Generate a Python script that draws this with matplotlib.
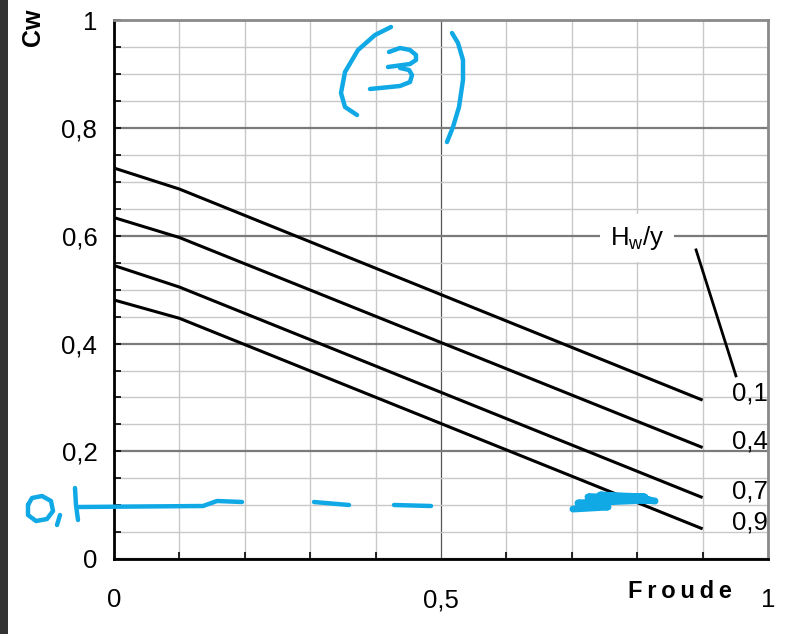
import matplotlib
matplotlib.use("Agg")
import matplotlib.pyplot as plt
from matplotlib.ticker import MultipleLocator, FuncFormatter
from matplotlib.patches import Rectangle

plt.rcParams['font.family'] = ['Liberation Sans', 'DejaVu Sans']

# Cw vs Froude number, one curve per Hw/y ratio
froude = [0.0, 0.1, 0.9]
ratios = ['0,1', '0,4', '0,7', '0,9']
cw_01 = [0.726, 0.687, 0.295]
cw_04 = [0.634, 0.597, 0.207]
cw_07 = [0.545, 0.505, 0.114]
cw_09 = [0.481, 0.447, 0.056]
curves = [cw_01, cw_04, cw_07, cw_09]

W, H = 802, 634
fig = plt.figure(figsize=(W / 100, H / 100), dpi=100)
ax = fig.add_axes([114 / W, (H - 559) / H, 654 / W, 538.5 / H])

ax.set_xlim(0, 1)
ax.set_ylim(0, 1)
ax.xaxis.set_major_locator(MultipleLocator(0.5))
ax.xaxis.set_minor_locator(MultipleLocator(0.1))
ax.yaxis.set_major_locator(MultipleLocator(0.2))
ax.yaxis.set_minor_locator(MultipleLocator(0.05))

fmt = FuncFormatter(lambda v, p: ('%g' % round(v, 2)).replace('.', ','))
ax.xaxis.set_major_formatter(fmt)
ax.yaxis.set_major_formatter(fmt)

ax.grid(which='minor', color='#c8c8c8', lw=1.0)
ax.grid(which='major', axis='y', color='#7a7a7a', lw=1.6)
ax.grid(which='major', axis='x', color='#555555', lw=0.9)
ax.set_axisbelow(True)

fs = 18.5
ax.tick_params(which='both', direction='in', length=5, width=1.2, color='black',
               labelsize=fs)
ax.tick_params(axis='y', which='major', pad=12)
ax.tick_params(axis='x', which='major', pad=21, length=0)

for s in ['left', 'bottom']:
    ax.spines[s].set_color('black')
    ax.spines[s].set_linewidth(2)
for s in ['top', 'right']:
    ax.spines[s].set_color('#8a8a8a')
    ax.spines[s].set_linewidth(2)

for cw, lab in zip(curves, ratios):
    ax.plot(froude, cw, color='black', lw=2.2, solid_capstyle='butt', zorder=3)
    ax.text(0.972, cw[-1] + 0.012, lab, fontsize=fs, ha='center', va='center', zorder=4)

ax.text(0.80, 0.596, r'H$_\mathregular{w}$/y', fontsize=fs, ha='center', va='center',
        bbox=dict(facecolor='white', edgecolor='none', pad=7), zorder=4)
ax.plot([0.89, 0.951], [0.574, 0.34], color='black', lw=2, zorder=4)

fig.text(628 / W, 1 - 591 / H, 'F\u2009r\u2009o\u2009u\u2009d\u2009e', fontsize=17,
         fontweight='bold', ha='left', va='center')
fig.text(33 / W, 1 - 27 / H, 'Cw', fontsize=18, fontweight='bold', rotation=90,
         ha='center', va='center')

# dark strip on the left edge
fig.patches.append(Rectangle((0, 0), 8 / W, 1, transform=fig.transFigure,
                             facecolor='#333333', edgecolor='none'))

# blue pen marks drawn over the sheet
ov = fig.add_axes([0, 0, 1, 1], facecolor='none')
ov.set_xlim(0, W)
ov.set_ylim(H, 0)
ov.axis('off')
pen = '#10a9e6'
strokes = [
    [(391, 27), (375, 35), (358, 50), (345, 72), (341, 93), (345, 107), (357, 115)],
    [(389, 52), (400, 48), (410, 50), (416, 55), (416, 60), (410, 64), (388, 67)],
    [(400, 68), (409, 70), (412, 75), (410, 82), (400, 86), (370, 89)],
    [(452, 33), (458, 43), (463, 60), (463, 80), (459, 107), (453, 127), (447, 142)],
    [(28, 505), (32, 498), (42, 496), (51, 501), (53, 511), (47, 519), (36, 521), (28, 515), (28, 505)],
    [(60, 515), (57, 525)],
    [(75, 488), (76, 505), (78, 520)],
    [(78, 507), (203, 506), (217, 501), (242, 502)],
    [(314, 502), (349, 505)],
    [(394, 505), (431, 506)],
    [(0, 585), (4, 590), (0, 596)],
]
for st in strokes:
    xs, ys = zip(*st)
    ov.plot(xs, ys, color=pen, lw=3.2, solid_capstyle='round', solid_joinstyle='round')
scrib = [(573, 509), (608, 507), (578, 503), (650, 500), (588, 497), (645, 497), (600, 495), (655, 501)]
xs, ys = zip(*scrib)
ov.plot(xs, ys, color=pen, lw=5, solid_capstyle='round', solid_joinstyle='round')

fig.savefig('out.png', dpi=100)
